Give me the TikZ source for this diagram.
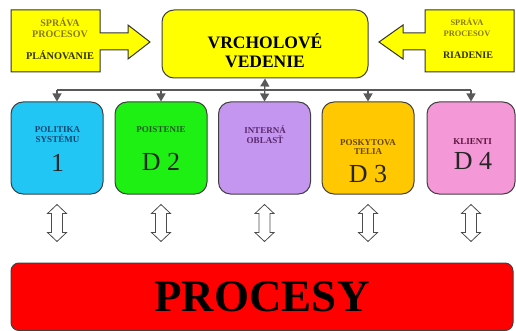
\documentclass[tikz,border=0pt]{standalone}
\usepackage{fontspec}
\setmainfont{Liberation Serif}
\usetikzlibrary{arrows.meta}
\definecolor{Zlta}{RGB}{255, 255, 0}
\definecolor{Modra}{RGB}{34, 198, 245}
\definecolor{Zelena}{RGB}{30, 240, 20}
\definecolor{Fialova}{RGB}{196, 150, 240}
\definecolor{Oranzova}{RGB}{255, 200, 0}
\definecolor{Ruzova}{RGB}{245, 152, 215}
\definecolor{Cervena}{RGB}{255, 0, 0}
\definecolor{Olivova}{RGB}{135, 122, 20}
\definecolor{TmavaOlivova}{RGB}{50, 50, 0}
\definecolor{TextModry}{RGB}{20, 70, 110}
\definecolor{TextZeleny}{RGB}{30, 90, 30}
\definecolor{TextFialovy}{RGB}{90, 40, 110}
\definecolor{TextHnedy}{RGB}{100, 70, 10}
\definecolor{TextRuzovy}{RGB}{90, 20, 60}

\begin{document}
\begin{tikzpicture}[x=1pt, y=-1pt,
    box/.style={draw=black!75, line width=1pt, rounded corners=12pt,
        minimum width=92pt, minimum height=92pt, inner sep=0pt},
    sipka/.style={draw=black!80, line width=1pt, fill=Zlta},
    linka/.style={draw=black!65, line width=1.2pt},
    hrot/.style={-{Triangle[width=9pt, length=8pt]}},
    dvojsipka/.style={draw=black!70, line width=0.8pt, fill=white},
    maly/.style={align=center, font=\fontsize{9}{9.8}\selectfont\bfseries, inner sep=0pt},
    velky/.style={font=\fontsize{26}{26}\selectfont, inner sep=0pt}]

    \useasboundingbox (0,0) rectangle (516,331);

    %Sipky sprava procesov
    \draw[sipka] (11,10) -- (100,10) -- (100,33) -- (128,33) -- (128,25) -- (150,42)
        -- (128,59) -- (128,50) -- (100,50) -- (100,72) -- (11,72) -- cycle;
    \draw[sipka] (514,10) -- (425,10) -- (425,33) -- (403,33) -- (403,25) -- (379,42)
        -- (403,59) -- (403,50) -- (425,50) -- (425,72) -- (514,72) -- cycle;
    \node[align=center, inner sep=0pt, text=Olivova,
        font=\fontsize{10}{11}\selectfont\bfseries] (spl) at (60,27.5) {SPRÁVA\\PROCESOV};
    \node[inner sep=0pt, text=TmavaOlivova,
        font=\fontsize{10.3}{11}\selectfont\bfseries] (plan) at (60,55) {PLÁNOVANIE};
    \node[align=center, inner sep=0pt, text=Olivova,
        font=\fontsize{8.4}{11}\selectfont\bfseries] (spr) at (467,27.5) {SPRÁVA\\PROCESOV};
    \node[inner sep=0pt, text=TmavaOlivova,
        font=\fontsize{10}{11}\selectfont\bfseries] (riad) at (468,55.5) {RIADENIE};

    %Vrcholove vedenie
    \node[box, fill=Zlta, minimum width=206pt, minimum height=68pt] (vv) at (265,44) {};
    \node[align=center, inner sep=0pt,
        font=\fontsize{17.5}{19}\selectfont\bfseries] (vvt) at (265,50.5) {VRCHOLOVÉ\\VEDENIE};

    %Oblasti
    \node[box, fill=Modra] (b1) at (57,148) {};
    \node[box, fill=Zelena] (b2) at (161,148) {};
    \node[box, fill=Fialova] (b3) at (264.5,148) {};
    \node[box, fill=Oranzova] (b4) at (368,148) {};
    \node[box, fill=Ruzova, minimum width=88pt] (b5) at (471,148) {};

    \node[maly, text=TextModry] (t1) at (57.5,134.5) {POLITIKA\\SYSTÉMU};
    \node[velky, text=black!85] (c1) at (57.5,163) {1};
    \node[maly, text=TextZeleny] (t2) at (161,130) {POISTENIE};
    \node[velky, text=black!85] (c2) at (161,162) {D 2};
    \node[maly, text=TextFialovy] (t3) at (265,134.8) {INTERNÁ\\OBLASŤ};
    \node[maly, text=TextHnedy] (t4) at (368,147) {POSKYTOVA\\TELIA};
    \node[velky, text=black!85] (c4) at (368,174) {D 3};
    \node[maly, text=TextRuzovy] (t5) at (472.5,141.7) {KLIENTI};
    \node[velky, text=black!85] (c5) at (473,160.5) {D 4};

    %Prepojenie
    \coordinate (bus) at (265,90);
    \draw[linka] (b1.north |- bus) -- (b5.north |- bus);
    \foreach \b in {b1,b2,b4,b5}
        \draw[linka, hrot] (\b.north |- bus) -- (\b.north);
    \draw[linka, {Triangle[width=9pt, length=8pt]}-{Triangle[width=9pt, length=8pt]}]
        (vv.south) -- (b3.north);

    %Dvojite sipky
    \foreach \b in {b1,b2,b3,b4,b5}
        \draw[dvojsipka, shift={(\b.south)}] (0,10) -- (9.5,19) -- (5.5,19) -- (5.5,38)
            -- (9.5,38) -- (0,47) -- (-9.5,38) -- (-5.5,38) -- (-5.5,19) -- (-9.5,19) -- cycle;

    %Procesy
    \node[box, fill=Cervena, rounded corners=8pt, minimum width=502pt,
        minimum height=67.5pt, font=\fontsize{45}{45}\selectfont\bfseries] (pr) at (262,296.75) {PROCESY};
\end{tikzpicture}
\end{document}
